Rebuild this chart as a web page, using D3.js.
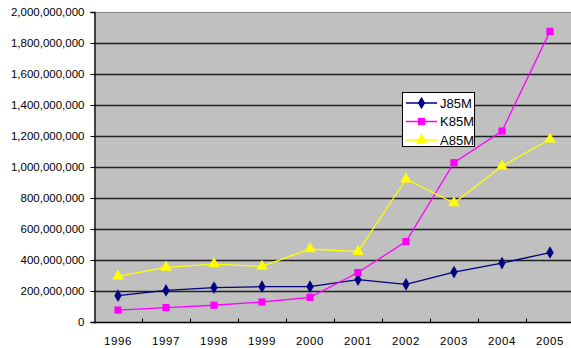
<!DOCTYPE html>
<html>
<head>
<meta charset="utf-8">
<script src="https://cdn.jsdelivr.net/npm/d3@7"></script>
<style>
  html, body { margin: 0; padding: 0; background: #fff; }
  svg { display: block; }
  text { font-family: "Liberation Sans", Arial, sans-serif; fill: #000; }
</style>
</head>
<body>
<svg id="chart" width="571" height="348"></svg>
<script>
// Yearly totals for three series
const years = ["1996","1997","1998","1999","2000","2001","2002","2003","2004","2005"];
const j85m = [170e6, 204e6, 222e6, 228e6, 228e6, 273e6, 243e6, 322e6, 380e6, 448e6];
const k85m = [77e6, 93e6, 108e6, 129e6, 159e6, 319e6, 519e6, 1028e6, 1232e6, 1875e6];
const a85m = [295e6, 353e6, 374e6, 359e6, 471e6, 454e6, 921e6, 768e6, 1005e6, 1179e6];
const yTicks = [0, 200e6, 400e6, 600e6, 800e6, 1000e6, 1200e6, 1400e6, 1600e6, 1800e6, 2000e6];

const seriesList = [
  { name: "J85M", values: j85m, color: "#000080", marker: d3.symbolDiamond, size: 46 },
  { name: "K85M", values: k85m, color: "#ff00ff", marker: d3.symbolSquare, size: 52 },
  { name: "A85M", values: a85m, color: "#ffff00", marker: d3.symbolTriangle, size: 58 }
];

const svg = d3.select("#chart");
const plotLeft = 94, plotTop = 12, plotW = 480, plotBottom = 322;

const x = d3.scaleBand().domain(years).range([plotLeft, plotLeft + plotW]);
const y = d3.scaleLinear().domain([0, 2000e6]).range([plotBottom, plotTop]);

// Plot area background
svg.append("rect")
  .attr("x", plotLeft).attr("y", plotTop)
  .attr("width", plotW).attr("height", plotBottom - plotTop)
  .attr("fill", "#c0c0c0");

// Horizontal gridlines
svg.append("g")
  .selectAll("line")
  .data(yTicks.slice(1))
  .join("line")
  .attr("x1", plotLeft).attr("x2", plotLeft + plotW)
  .attr("y1", d => Math.round(y(d)) + 0.5).attr("y2", d => Math.round(y(d)) + 0.5)
  .attr("stroke", d => d === 2000e6 ? "#808080" : "#202020")
  .attr("stroke-width", d => d === 2000e6 ? 1 : 1.6);

// Y axis
const fmt = d3.format(",");
const yAxis = svg.append("g")
  .attr("transform", `translate(${plotLeft + 0.5},0)`)
  .call(d3.axisLeft(y).tickValues(yTicks).tickFormat(fmt).tickSize(4).tickPadding(6));
yAxis.select(".domain").attr("stroke", "#000").attr("stroke-width", 1.3);
yAxis.selectAll(".tick line").attr("stroke", "#000");
yAxis.selectAll(".tick text")
  .style("font-family", "'Liberation Sans', Arial, sans-serif")
  .style("font-size", "11.5px")
  .attr("fill", "#000");

// X axis with ticks between categories pointing into the plot
const xAxis = svg.append("g")
  .attr("transform", `translate(0,${plotBottom + 0.5})`);
xAxis.append("line")
  .attr("x1", plotLeft).attr("x2", plotLeft + plotW)
  .attr("stroke", "#000").attr("stroke-width", 1.3);
xAxis.selectAll("line.tk")
  .data(years.slice(1))
  .join("line")
  .attr("class", "tk")
  .attr("x1", d => Math.round(x(d)) + 0.5).attr("x2", d => Math.round(x(d)) + 0.5)
  .attr("y1", 0).attr("y2", -4)
  .attr("stroke", "#000");
xAxis.selectAll("text")
  .data(years)
  .join("text")
  .attr("x", d => x(d) + x.bandwidth() / 2)
  .attr("y", 22)
  .attr("text-anchor", "middle")
  .style("font-size", "11.5px")
  .style("letter-spacing", "0.6px")
  .text(d => d);

// Series lines and markers
const line = d3.line()
  .x((d, i) => x(years[i]) + x.bandwidth() / 2)
  .y(d => y(d));

seriesList.forEach(s => {
  svg.append("path")
    .datum(s.values)
    .attr("fill", "none")
    .attr("stroke", s.color)
    .attr("stroke-width", 1.3)
    .attr("d", line);
  svg.append("g")
    .selectAll("path")
    .data(s.values)
    .join("path")
    .attr("transform", (d, i) => `translate(${x(years[i]) + x.bandwidth() / 2},${y(d)})`)
    .attr("d", d3.symbol(s.marker, s.size))
    .attr("fill", s.color);
});

// Legend
const lg = svg.append("g").attr("transform", "translate(402,92)");
lg.append("rect")
  .attr("x", 0.5).attr("y", 0.5)
  .attr("width", 72).attr("height", 54)
  .attr("fill", "#fff").attr("stroke", "#000").attr("stroke-width", 1);
seriesList.forEach((s, i) => {
  const cy = 11 + i * 18.5;
  lg.append("line")
    .attr("x1", 4).attr("x2", 35)
    .attr("y1", cy).attr("y2", cy)
    .attr("stroke", s.color).attr("stroke-width", 1.5);
  lg.append("path")
    .attr("transform", `translate(19.5,${cy})`)
    .attr("d", d3.symbol(s.marker, s.size))
    .attr("fill", s.color);
  lg.append("text")
    .attr("x", 38).attr("y", cy + 4.5)
    .style("font-size", "13px")
    .text(s.name);
});
</script>
</body>
</html>
